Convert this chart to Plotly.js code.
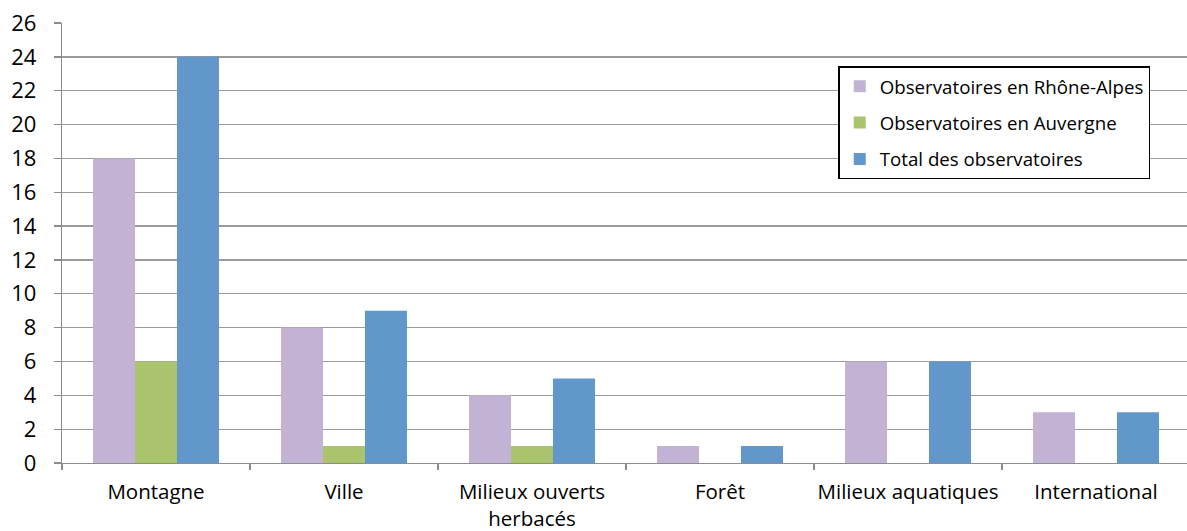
<!DOCTYPE html>
<html><head><meta charset="utf-8">
<script src="https://cdn.plot.ly/plotly-3.0.1.min.js"></script>
<style>html,body{margin:0;padding:0;background:#fff}#chart{width:1187px;height:531px}</style>
</head><body><div id="chart"></div>
<script>
const categories = ["Montagne", "Ville", "Milieux ouverts<br>herbacés", "Forêt", "Milieux aquatiques", "International"];
const rhoneAlpes = [18, 8, 4, 1, 6, 3];
const auvergne = [6, 1, 1, 0, 0, 0];
const total = [24, 9, 5, 1, 6, 3];
const seriesNames = ["Observatoires en Rhône-Alpes", "Observatoires en Auvergne", "Total des observatoires"];
const yTicks = [0,2,4,6,8,10,12,14,16,18,20,22,24,26];

const colors = ["#c2b2d4", "#a9c46c", "#6297cb"];
const seriesData = [rhoneAlpes, auvergne, total];
const traces = seriesData.map((v, i) => ({
  type: "bar", x: categories, y: v, name: seriesNames[i],
  marker: {color: colors[i], line: {width: 0}},
  legendgroup: "g" + i, hoverinfo: "none"
}));
const font = "'Open Sans', 'DejaVu Sans', sans-serif";
const layout = {
  width: 1187, height: 531,
  margin: {l: 62, r: 0, t: 23, b: 67.5},
  paper_bgcolor: "#fff", plot_bgcolor: "#fff",
  barmode: "group", bargap: 0.33, bargroupgap: 0,
  font: {family: font, color: "#000"},
  showlegend: true,
  legend: {
    x: 0.69, y: 0.902, xanchor: "left", yanchor: "top",
    bgcolor: "#fff", bordercolor: "#000", borderwidth: 1.5,
    font: {size: 18.7, family: font, color: "#000"},
    tracegroupgap: 9, traceorder: "grouped", itemwidth: 30
  },
  xaxis: {
    type: "category", range: [-0.5, 5.484], tickangle: 0,
    tickson: "boundaries", ticks: "outside", ticklen: 6, tickcolor: "#8c8c8c", tickwidth: 1.3,
    showline: true, linecolor: "#8c8c8c", linewidth: 1.3,
    showgrid: false, tickfont: {size: 20.5, family: font, color: "#000"},
    ticklabelstandoff: 10,
    fixedrange: true
  },
  yaxis: {
    range: [0, 26], tickvals: yTicks, ticktext: yTicks.map(String),
    ticks: "outside", ticklen: 7, tickcolor: "#8c8c8c", tickwidth: 1.3,
    showline: true, linecolor: "#8c8c8c", linewidth: 1.3,
    showgrid: true, gridcolor: "#9a9a9a", gridwidth: 1.3,
    zeroline: false, tickfont: {size: 22, family: font, color: "#000"},
    ticklabelstandoff: 13,
    fixedrange: true
  }
};
Plotly.newPlot("chart", traces, layout, {displayModeBar: false, staticPlot: true});
</script></body></html>
